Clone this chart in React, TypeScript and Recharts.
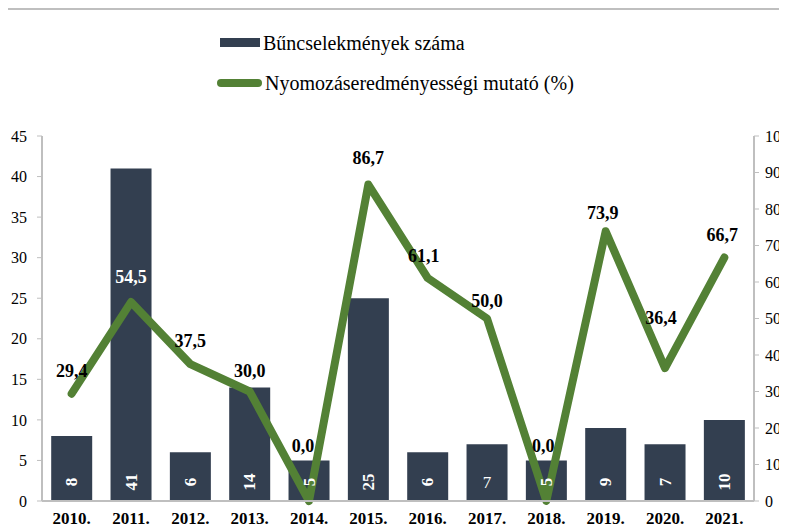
import React from "react";
import {
  ComposedChart,
  Bar,
  Line,
  XAxis,
  YAxis,
  LabelList,
} from "recharts";

// Years on the category axis
const years = [
  "2010.", "2011.", "2012.", "2013.", "2014.", "2015.",
  "2016.", "2017.", "2018.", "2019.", "2020.", "2021.",
];

// Bűncselekmények száma (left axis)
const crimes = [8, 41, 6, 14, 5, 25, 6, 7, 5, 9, 7, 10];

// Nyomozáseredményességi mutató % (right axis)
const clearance = [29.4, 54.5, 37.5, 30.0, 0.0, 86.7, 61.1, 50.0, 0.0, 73.9, 36.4, 66.7];

const leftTicks = [0, 5, 10, 15, 20, 25, 30, 35, 40, 45];
const rightTicks = [0, 10, 20, 30, 40, 50, 60, 70, 80, 90, 100];

// label placement tweaks (as Excel put them)
const LINE_LABEL_DX = [0, 0, 0, 0, -6, 0, -4, 0, -3, -3, -4, -2];
const LINE_LABEL_DY = [-23, -25, -23, -21, -55, -27, -22, -18, -55, -18, -50, -23];
const LINE_LABEL_WHITE = [1];
const BAR_LABEL_UPRIGHT = [7];

const BAR_COLOR = "#333f50";
const LINE_COLOR = "#538135";
const AXIS_COLOR = "#bfbfbf";
const FONT = "Liberation Serif, Tinos, Times New Roman, serif";

const chartData = years.map((year, i) => ({
  year,
  crimes: crimes[i],
  clearance: clearance[i],
}));

const fmt = (v: number) => v.toFixed(1).replace(".", ",");

function LineValueLabel(props: any) {
  const { x, y, value, index } = props;
  return (
    <text
      x={x + LINE_LABEL_DX[index]}
      y={y + LINE_LABEL_DY[index]}
      textAnchor="middle"
      dominantBaseline="central"
      style={{ fontFamily: FONT, fontSize: 18, fontWeight: "bold" }}
      fill={LINE_LABEL_WHITE.includes(index) ? "#ffffff" : "#000000"}
    >
      {fmt(Number(value))}
    </text>
  );
}

function BarValueLabel(props: any) {
  const { x, width, value, index } = props;
  const cx = x + width / 2;
  const cy = 482;
  const upright = BAR_LABEL_UPRIGHT.includes(index);
  return (
    <text
      x={cx}
      y={cy}
      textAnchor="middle"
      dominantBaseline="central"
      style={{ fontFamily: FONT, fontSize: 17, fontWeight: upright ? "normal" : "bold" }}
      fill="#ffffff"
      transform={upright ? undefined : `rotate(-90 ${cx} ${cy})`}
    >
      {value}
    </text>
  );
}

export default function App() {
  const tickStyle = { fontFamily: FONT, fontSize: 16, fill: "#000" };
  return (
    <div
      style={{
        position: "relative",
        width: 787,
        height: 527,
        margin: "-8px 0 0 -8px",
        overflow: "hidden",
        background: "#fff",
        fontFamily: FONT,
      }}
    >
      <div
        style={{
          position: "absolute",
          left: 6,
          top: 8,
          width: 800,
          height: 540,
          borderLeft: `2px solid ${AXIS_COLOR}`,
          borderTop: `2px solid ${AXIS_COLOR}`,
        }}
      />
      {/* legend */}
      <div style={{ position: "absolute", left: 220, top: 38, width: 40, height: 9, background: BAR_COLOR }} />
      <div style={{ position: "absolute", left: 263, top: 30, fontSize: 20, lineHeight: "26px", color: "#000" }}>
        Bűncselekmények száma
      </div>
      <div style={{ position: "absolute", left: 217, top: 79, width: 45, height: 8, borderRadius: 4, background: LINE_COLOR }} />
      <div style={{ position: "absolute", left: 265, top: 70, fontSize: 20, lineHeight: "26px", color: "#000" }}>
        Nyomozáseredményességi mutató (%)
      </div>

      <div style={{ position: "absolute", left: 0, top: 0 }}>
        <ComposedChart
          width={787}
          height={527}
          data={chartData}
          margin={{ top: 136, right: 0, bottom: 0, left: 0 }}
          barCategoryGap="15.5%"
        >
          <XAxis
            dataKey="year"
            height={26}
            tickLine={false}
            tickMargin={5}
            axisLine={{ stroke: AXIS_COLOR, strokeWidth: 2 }}
            tick={{ ...tickStyle, fontSize: 17, fontWeight: "bold" }}
            interval={0}
          />
          <YAxis
            yAxisId="left"
            orientation="left"
            width={42}
            domain={[0, 45]}
            ticks={leftTicks}
            tickSize={5}
            tickMargin={10}
            axisLine={{ stroke: AXIS_COLOR, strokeWidth: 2 }}
            tickLine={{ stroke: AXIS_COLOR }}
            tick={tickStyle}
            interval={0}
          />
          <YAxis
            yAxisId="right"
            orientation="right"
            width={33}
            domain={[0, 100]}
            ticks={rightTicks}
            tickSize={5}
            tickMargin={6}
            axisLine={{ stroke: AXIS_COLOR, strokeWidth: 2 }}
            tickLine={{ stroke: AXIS_COLOR }}
            tick={{ ...tickStyle, textAnchor: "start" }}
            interval={0}
          />
          <Bar yAxisId="left" dataKey="crimes" fill={BAR_COLOR} isAnimationActive={false}>
            <LabelList dataKey="crimes" content={BarValueLabel} />
          </Bar>
          <Line
            yAxisId="right"
            dataKey="clearance"
            stroke={LINE_COLOR}
            strokeWidth={8}
            strokeLinejoin="round"
            strokeLinecap="round"
            dot={false}
            activeDot={false}
            isAnimationActive={false}
          >
            <LabelList dataKey="clearance" content={LineValueLabel} />
          </Line>
        </ComposedChart>
      </div>
    </div>
  );
}
